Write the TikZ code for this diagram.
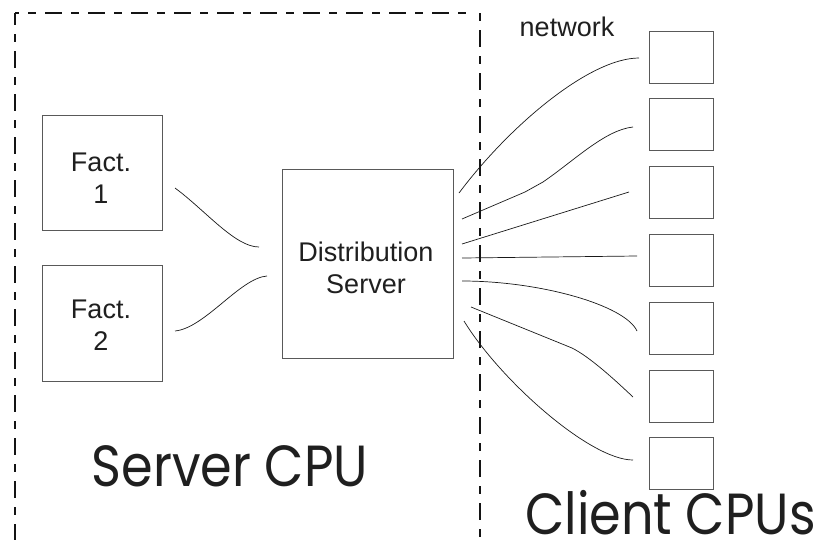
\documentclass[tikz,border=0pt]{standalone}
\usepackage{fontspec}
\setmainfont{Liberation Sans}
\newfontfamily\bigfont[FakeStretch=0.878]{Poppins}
\begin{document}
\begin{tikzpicture}[x=1pt,y=-1pt,
  box/.style={draw=black!65,line width=0.9pt,inner sep=0pt,minimum width=120pt},
  clientbox/.style={draw=black!65,line width=0.9pt,inner sep=0pt,minimum width=64pt,minimum height=52pt},
  lbl/.style={inner sep=0pt,align=center,text=black!88,font=\fontsize{27}{32}\selectfont},
  biglbl/.style={inner sep=0pt,text=black!88,font=\bigfont\fontsize{58}{64}\selectfont},
  wire/.style={draw=black!90,line width=0.7pt},
  border/.style={draw=black!92,line width=2.3pt,dash pattern=on 8pt off 9pt on 17pt off 9pt}]
\useasboundingbox (0,0) rectangle (823,539);

% server CPU outline
\draw[border,dash phase=22pt] (15,13) -- (15,540);
\draw[border,dash phase=30pt] (15,13) -- (471,13);
\draw[border,dash phase=0pt] (480,13) -- (480,540);

% boxes
\node[box,minimum height=115pt] (f1) at (102,172.5) {};
\node[box,minimum height=116pt] (f2) at (102,323) {};
\node[box,minimum width=171pt,minimum height=189pt] (ds) at (367.5,263.5) {};
\foreach \i in {1,...,7}
  \node[clientbox] (c\i) at (681,{57+67.8*(\i-1)}) {};

% labels
\node[lbl] (f1t) at (101,178.5) {Fact.\\1};
\node[lbl] (f2t) at (101,325.5) {Fact.\\2};
\node[lbl] (dst) at (366,268) {Distribution\\Server};
\node[lbl,anchor=base] (net) at (567,36) {network};
\node[biglbl,anchor=base] (srv) at (230,486) {Server CPU};
\node[biglbl,anchor=base] (cli) at (670.5,534) {Client CPUs};

% connector end points
\coordinate (a1) at (175,188);  \coordinate (b1) at (259,247);
\coordinate (a2) at (175,331);  \coordinate (b2) at (267,276);
\coordinate (s1) at (459,193);  \coordinate (t1) at (639,58);
\coordinate (s2) at (462,219);  \coordinate (t2) at (633,127);
\coordinate (s3) at (462,244);  \coordinate (t3) at (629,192);
\coordinate (s4) at (462,258);  \coordinate (t4) at (637,256);
\coordinate (s5) at (462,281);  \coordinate (t5) at (637,331);
\coordinate (s6) at (471,307);  \coordinate (t6) at (633,397);
\coordinate (s7) at (464,321);  \coordinate (t7) at (633,460);

% factories to distribution server
\draw[wire] (a1) .. controls (205,210) and (235,247) .. (b1);
\draw[wire] (a2) .. controls (205,328) and (240,278) .. (b2);

% distribution server to clients
\draw[wire] (s1) .. controls (510,125) and (590,58) .. (t1);
\draw[wire] (s2) -- (525,192) -- (543,182) .. controls (575,160) and (605,130) .. (t2);
\draw[wire] (s3) -- (t3);
\draw[wire] (s4) -- (t4);
\draw[wire] (s5) .. controls (540,281) and (625,305) .. (t5);
\draw[wire] (s6) -- (572,348) .. controls (590,357) and (615,380) .. (t6);
\draw[wire] (s7) .. controls (500,380) and (590,460) .. (t7);
\end{tikzpicture}
\end{document}
